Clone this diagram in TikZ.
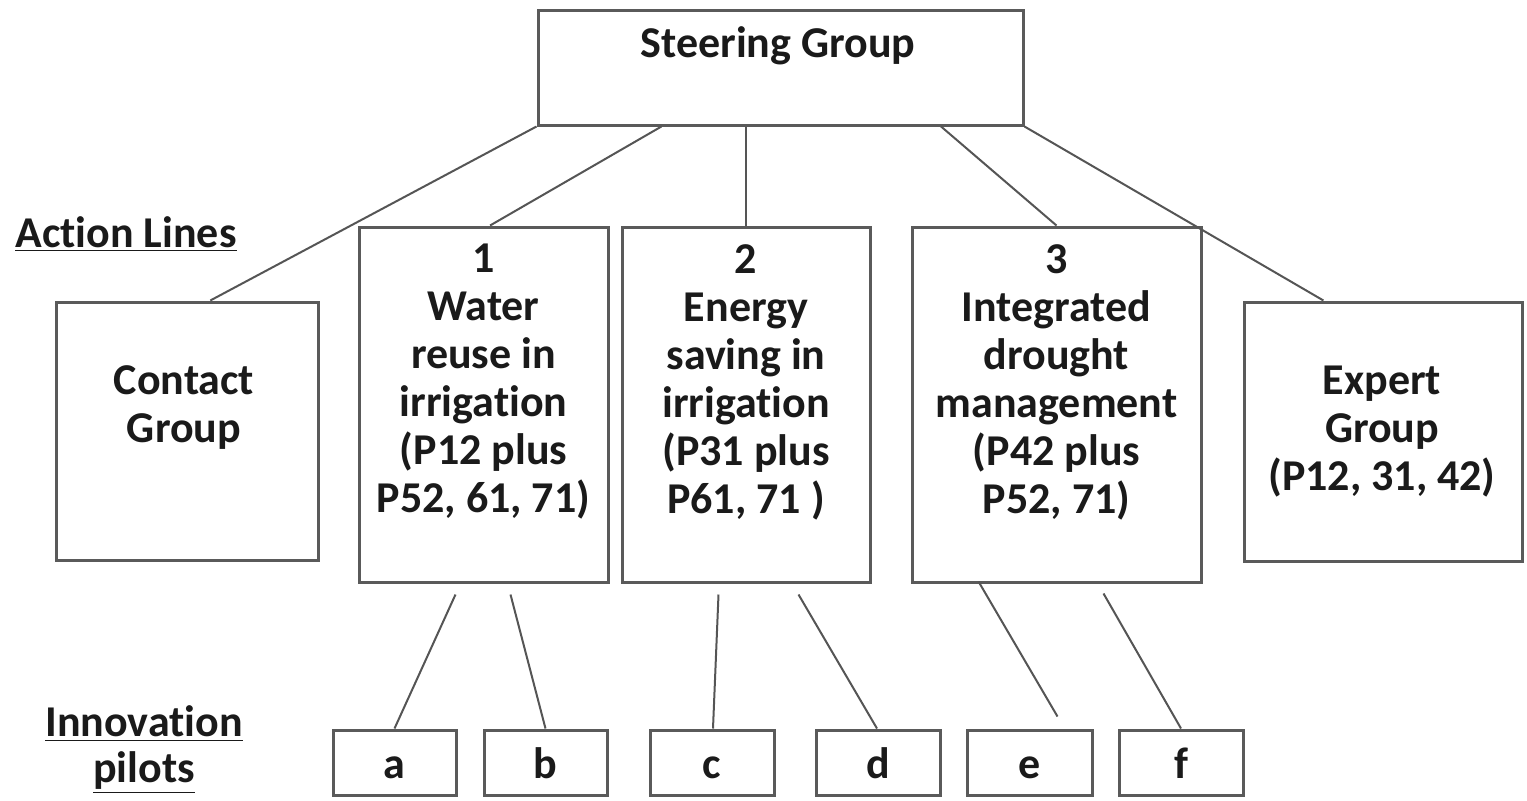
\documentclass[tikz,border=0pt]{standalone}
\usepackage{fontspec}
\setmainfont[Ligatures={NoCommon}]{Carlito}
\usetikzlibrary{calc}
\definecolor{boxc}{HTML}{5A5A5A}
\definecolor{linec}{HTML}{555555}
\definecolor{txt}{HTML}{1A1A1A}
\tikzset{
  box/.style={draw=boxc, line width=1.5pt, fill=white, inner sep=0pt},
  conn/.style={draw=linec, line width=1pt},
  lbl/.style={text=txt, font=\fontsize{22}{24}\selectfont\bfseries, align=center, inner sep=0pt},
}
\begin{document}
\begin{tikzpicture}[x=0.5pt,y=-0.5pt]
\useasboundingbox (0,0) rectangle (1527,800);
% boxes
\node[box, minimum width=242.5pt, minimum height=57.5pt] (sg) at (780.5,67.5) {};
\node[box, minimum width=131pt, minimum height=129pt] (cg) at (187,431) {};
\node[box, minimum width=124.5pt, minimum height=177.5pt] (al1) at (483.5,404.5) {};
\node[box, minimum width=124pt, minimum height=177.5pt] (al2) at (746,404.5) {};
\node[box, minimum width=144.5pt, minimum height=177.5pt] (al3) at (1056.5,404.5) {};
\node[box, minimum width=139pt, minimum height=129.5pt] (eg) at (1383,431.5) {};
\foreach \n/\x/\w in {a/394.5/61.5, b/545.5/61.5, c/712/62, d/878/62, e/1029.5/62.5, f/1181/62}{
  \node[box, minimum width=\w pt, minimum height=32.5pt] (\n) at (\x,762.5) {};
  \node[lbl, anchor=base] (\n t) at (\x,778) {\n};
}
% texts
\node[lbl] (sgt) at (778,46) {Steering Group};
\node[lbl] (cgt) at (184,408) {Contact\\Group};
\node[lbl, anchor=north] (al1t) at (483.5,244) {1\\Water\\reuse in\\irrigation\\(P12 plus\\P52, 61, 71)};
\node[lbl, anchor=north] (al2t) at (746,244) {2\\Energy\\saving in\\irrigation\\(P31 plus\\P61, 71 )};
\node[lbl, anchor=north] (al3t) at (1056.5,244) {3\\Integrated\\drought\\management\\(P42 plus\\P52, 71)};
\node[lbl] (egt) at (1382,432) {Expert\\Group\\(P12, 31, 42)};
\node[lbl] (alt) at (126,234) {\underline{Action Lines}};
\node[lbl] (ipt) at (144,750) {\underline{Innovation}\\[-1pt]\underline{pilots}};
% connectors from steering group
\draw[conn] (sg.south west) -- ($(cg.north west)!0.588!(cg.north east)$);
\draw[conn] ($(sg.south west)!0.256!(sg.south east)$) -- ($(al1.north west)!0.526!(al1.north east)$);
\draw[conn] (al2.north |- sg.south) -- (al2.north);
\draw[conn] ($(sg.south west)!0.829!(sg.south east)$) -- (al3.north);
\draw[conn] (sg.south east) -- ($(eg.north west)!0.288!(eg.north east)$);
% connectors to pilots
\coordinate (pa) at ($(al1.south west)+(98,11)$);
\coordinate (pb) at ($(al1.south west)+(153,11)$);
\coordinate (pc) at ($(al2.south west)+(98,11)$);
\coordinate (pd) at ($(al2.south west)+(178,11)$);
\coordinate (pe) at ($(al3.south west)+(68,-2)$);
\coordinate (pee) at ($(e.north)+(28,-12)$);
\coordinate (pf) at ($(al3.south west)+(193,10)$);
\draw[conn] (pa) -- (a.north);
\draw[conn] (pb) -- (b.north);
\draw[conn] (pc) -- ($(c.north)+(1,0)$);
\draw[conn] (pd) -- ($(d.north)+(-1,0)$);
\draw[conn] (pe) -- (pee);
\draw[conn] (pf) -- (f.north);
\end{tikzpicture}
\end{document}
